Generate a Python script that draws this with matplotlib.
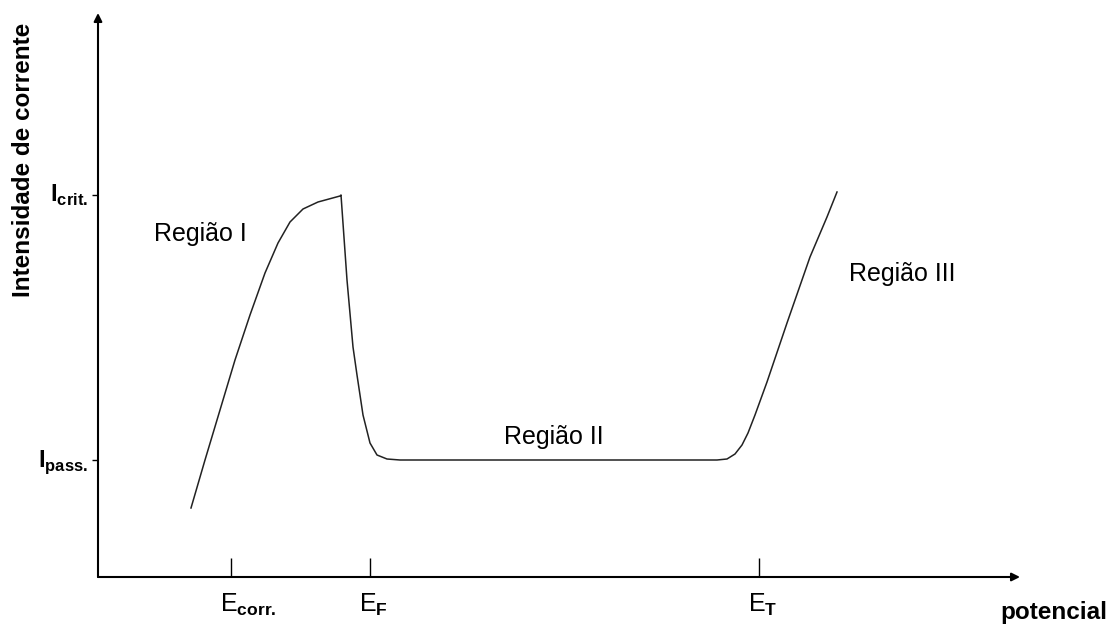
import matplotlib
matplotlib.use("Agg")
import matplotlib.pyplot as plt

plt.rcParams['font.family'] = ['Liberation Sans', 'DejaVu Sans']
plt.rcParams['mathtext.fontset'] = 'custom'
plt.rcParams['mathtext.rm'] = 'Liberation Sans'
plt.rcParams['mathtext.bf'] = 'Liberation Sans:bold'

# Polarisation curve (arbitrary units)
potential = [93, 107, 122, 137, 152, 167, 180, 192, 205, 220, 242, 243,
             249, 255, 259, 265, 272, 279, 289, 302, 619, 629, 637, 644,
             650, 657, 669, 689, 712, 729, 739]
current = [69, 117, 167, 217, 262, 304, 334, 355, 368, 375, 381, 382,
           297, 230, 202, 162, 134, 122, 118, 117, 117, 118, 123, 132,
           144, 162, 195, 254, 320, 360, 385]

# Marked potentials and currents
e_ticks = [133, 272, 661]
e_labels = [r'$\mathrm{E}_{\mathbf{corr.}}$', r'$\mathrm{E}_{\mathbf{F}}$',
            r'$\mathrm{E}_{\mathbf{T}}$']
i_ticks = [382, 117]
i_labels = [r'$\mathbf{I}_{\mathbf{crit.}}$', r'$\mathbf{I}_{\mathbf{pass.}}$']

regions = ['Região I', 'Região II', 'Região III']
region_pos = [(102, 343), (456, 140), (804, 303)]

fig = plt.figure(figsize=(11.12, 6.28), dpi=100)
ax = fig.add_axes([0, 0, 1, 1])
ax.set_xlim(-98, 1014)
ax.set_ylim(-51, 577)
ax.axis('off')

# axes with arrow heads
arrow = dict(arrowstyle='-|>', lw=1.5, color='black', mutation_scale=12,
             shrinkA=0, shrinkB=0)
ax.annotate('', xy=(922, 0), xytext=(0, 0), arrowprops=arrow)
ax.annotate('', xy=(0, 564), xytext=(0, 0), arrowprops=arrow)

# tick marks
ax.vlines(e_ticks, 0, 19, color='black', lw=1.0)
ax.hlines(i_ticks, -6, 0, color='black', lw=1.0)

for x, lab in zip(e_ticks, e_labels):
    ax.text(x - 11, -35, lab, fontsize=18, ha='left', va='baseline')
for y, lab in zip(i_ticks, i_labels):
    ax.text(-10, y - 7, lab, fontsize=17, ha='right', va='baseline')

ax.plot(potential, current, color='#222222', lw=1.1, solid_joinstyle='round')

for txt, (x, y) in zip(regions, region_pos):
    ax.text(x, y, txt, fontsize=18, ha='center', va='center')

ax.text(-75, 417, 'Intensidade de corrente', fontsize=17.5, fontweight='bold',
        rotation=90, ha='center', va='center')
ax.text(956, -35, 'potencial', fontsize=17.5, fontweight='bold',
        ha='center', va='center')

fig.savefig('out.png', dpi=100)
